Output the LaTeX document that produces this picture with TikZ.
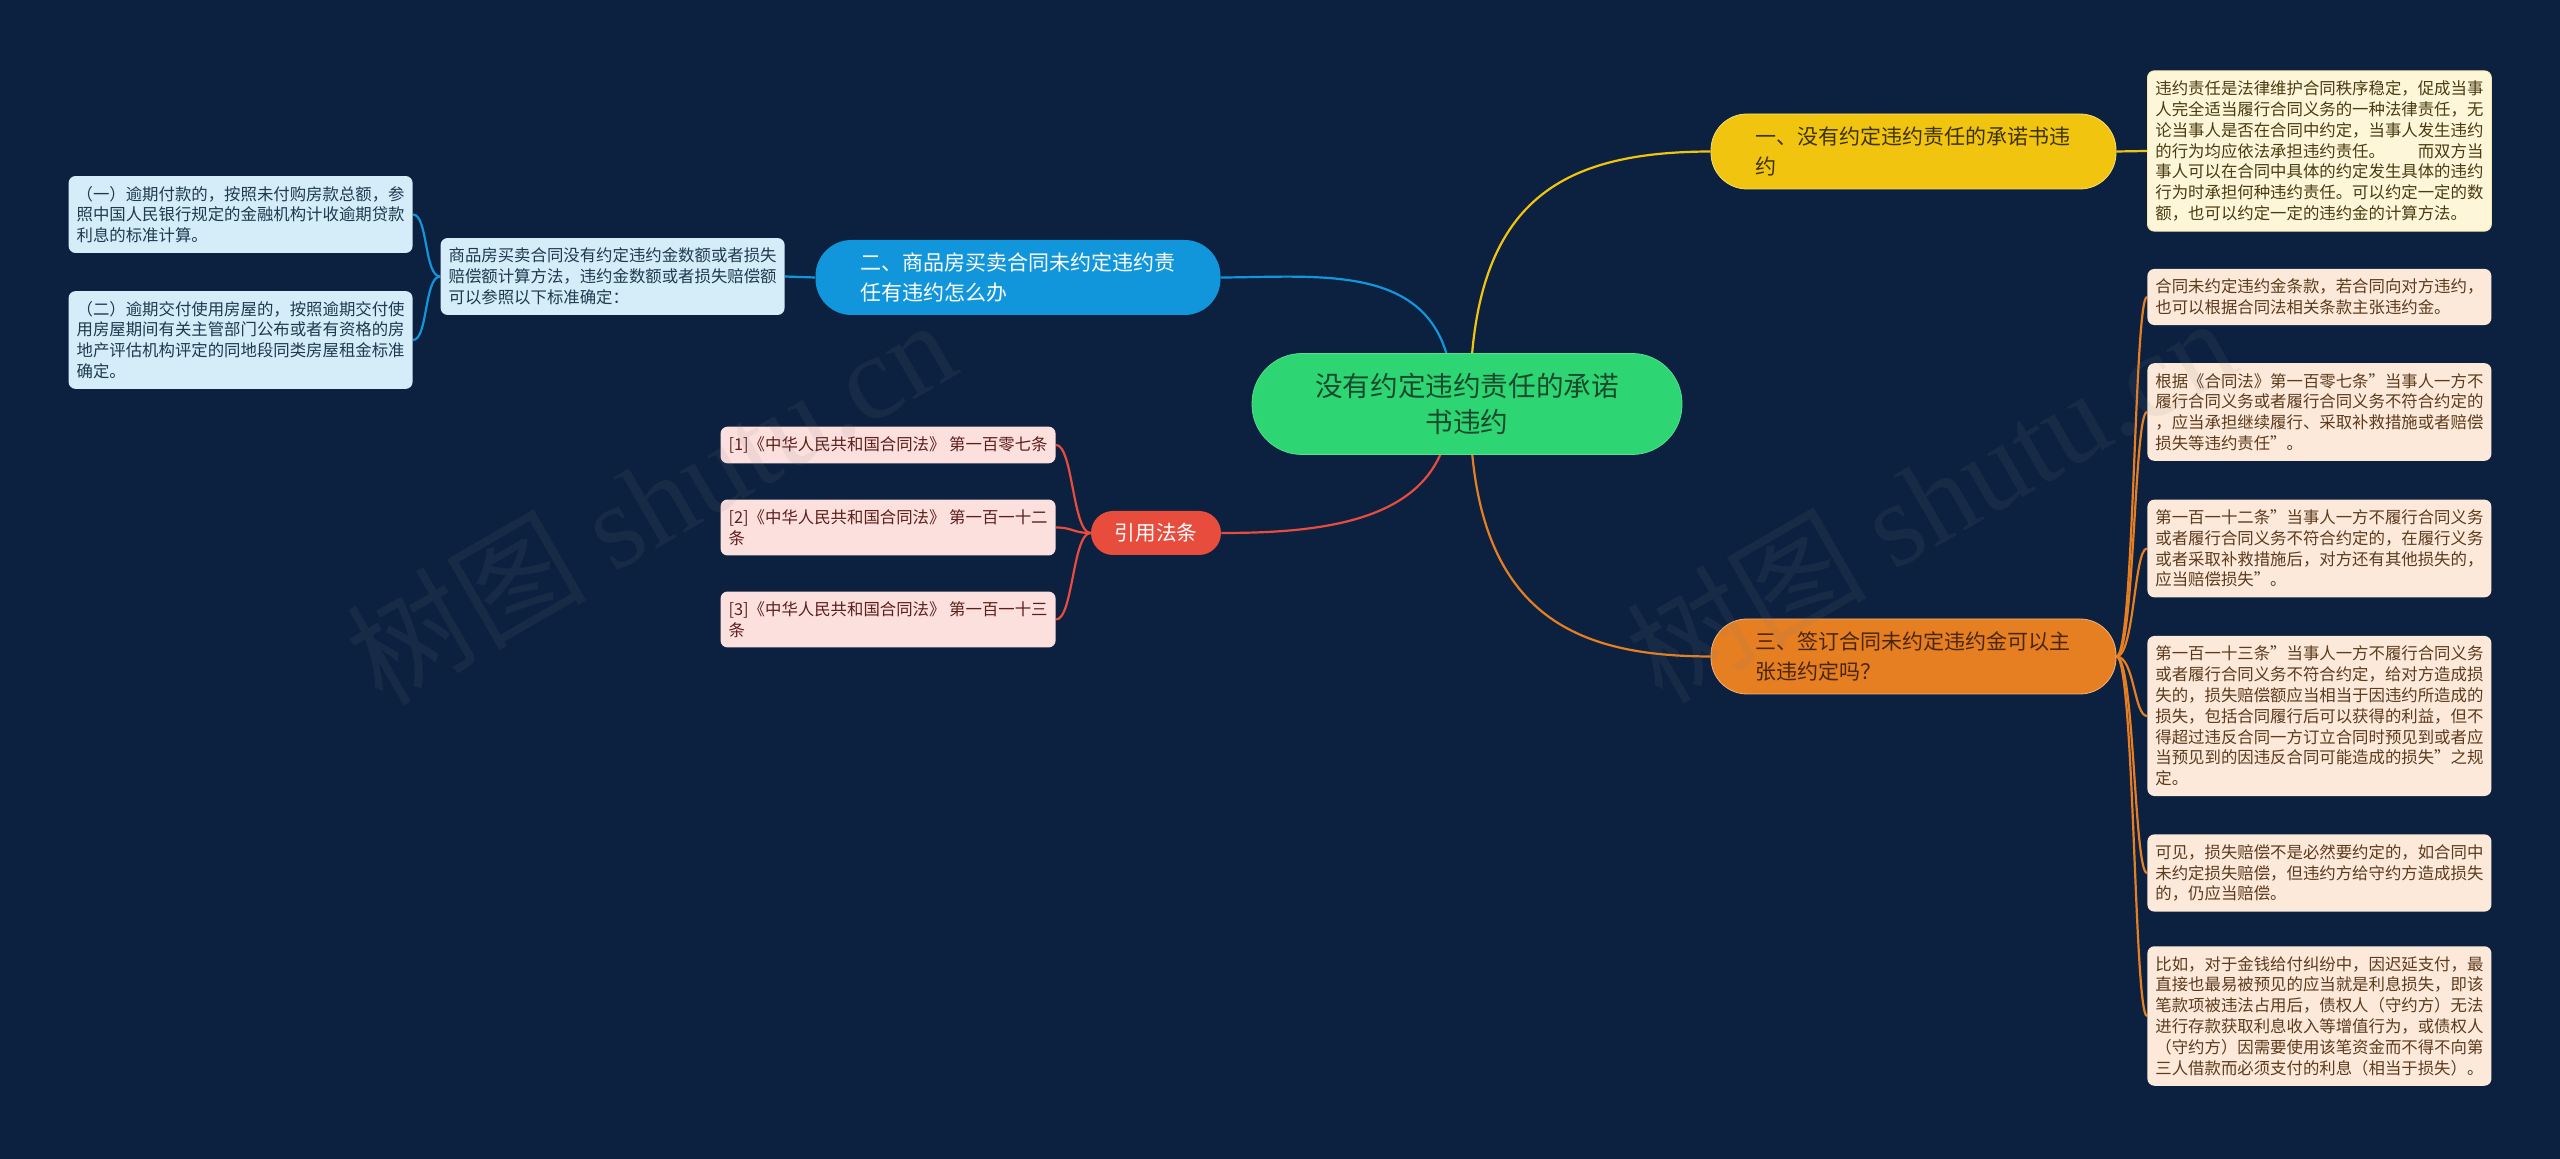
\documentclass[tikz,border=0pt]{standalone}
\usepackage{fontspec}
\setmainfont{Noto Sans CJK SC}
\newfontfamily\wmfont{Liberation Serif}
\usetikzlibrary{calc}

\definecolor{bgnavy}{HTML}{0C2140}
\definecolor{topicg}{HTML}{2ED573}
\definecolor{topicgd}{HTML}{1B4A2C}
\definecolor{yel}{HTML}{F1C40F}
\definecolor{yeltxt}{HTML}{3D3200}
\definecolor{yelbox}{HTML}{FDF6D8}
\definecolor{yelboxtxt}{HTML}{4A3B12}
\definecolor{org}{HTML}{E67E22}
\definecolor{orgtxt}{HTML}{4A2608}
\definecolor{orgbox}{HTML}{FDE9D9}
\definecolor{orgboxtxt}{HTML}{5C3B1E}
\definecolor{blu}{HTML}{1296DB}
\definecolor{blubox}{HTML}{D5EDF9}
\definecolor{bluboxtxt}{HTML}{1E3A4F}
\definecolor{refred}{HTML}{E74C3C}
\definecolor{refbox}{HTML}{FCE0DE}
\definecolor{refboxtxt}{HTML}{5C1F1A}

\pgfdeclarelayer{bg}
\pgfdeclarelayer{edges}
\pgfsetlayers{bg,edges,main}

\begin{document}
\begin{tikzpicture}[x=0.5pt,y=-0.5pt,
    box/.style={rounded corners=3.5pt,inner xsep=4pt,inner ysep=5pt,align=left,
      font=\fontsize{8.2}{10.4}\selectfont},
    pill/.style={rounded corners=18pt,minimum height=37.5pt,text width=158pt,
      inner xsep=22.25pt,align=left,font=\fontsize{10.5}{15}\selectfont},
    link/.style={line width=1.1pt},
    wm/.style={text=gray,opacity=0.1,font=\fontsize{60}{60}\selectfont,rotate=30}]

  \begin{pgfonlayer}{bg}
    \fill[bgnavy] (0,0) rectangle (2560,1159);
  \end{pgfonlayer}
  \useasboundingbox (0,0) rectangle (2560,1159);

  % centre and main branches
  \node[fill=topicg,draw=topicg!80!white,text=topicgd,rounded corners=25pt,
        minimum width=215pt,minimum height=50.5pt,align=center,
        font=\fontsize{13.8}{18.3}\selectfont] (root) at (1467,404) {没有约定违约责任的承诺\\书违约};
  \node[pill,fill=yel,draw=yel!60!white,text=yeltxt] (one) at (1913.5,151.5) {一、没有约定违约责任的承诺书违\\约};
  \node[pill,fill=blu,text=white] (two) at (1018,277.5) {二、商品房买卖合同未约定违约责\\任有违约怎么办};
  \node[pill,fill=org,draw=org!60!white,text=orgtxt] (three) at (1913.5,656.5) {三、签订合同未约定违约金可以主\\张违约定吗？};
  \node[fill=refred,text=white,rounded corners=11pt,minimum width=65pt,minimum height=22pt,
        font=\fontsize{10.3}{12}\selectfont] (cite) at (1156,533) {引用法条};

  % right side
  \node[box,fill=yelbox,draw=yel!40!white,text=yelboxtxt,anchor=west] (pA) at (2147,151) {违约责任是法律维护合同秩序稳定，促成当事\\人完全适当履行合同义务的一种法律责任，无\\论当事人是否在合同中约定，当事人发生违约\\的行为均应依法承担违约责任。　　而双方当\\事人可以在合同中具体的约定发生具体的违约\\行为时承担何种违约责任。可以约定一定的数\\额，也可以约定一定的违约金的计算方法。};
  \node[box,fill=orgbox,text=orgboxtxt,anchor=west] (pB) at (2147,297) {合同未约定违约金条款，若合同向对方违约，\\也可以根据合同法相关条款主张违约金。};
  \node[box,fill=orgbox,text=orgboxtxt,anchor=west] (pC) at (2147,412) {根据《合同法》第一百零七条"当事人一方不\\履行合同义务或者履行合同义务不符合约定的\\，应当承担继续履行、采取补救措施或者赔偿\\损失等违约责任"。};
  \node[box,fill=orgbox,text=orgboxtxt,anchor=west] (pD) at (2147,548.5) {第一百一十二条"当事人一方不履行合同义务\\或者履行合同义务不符合约定的，在履行义务\\或者采取补救措施后，对方还有其他损失的，\\应当赔偿损失"。};
  \node[box,fill=orgbox,text=orgboxtxt,anchor=west] (pE) at (2147,716) {第一百一十三条"当事人一方不履行合同义务\\或者履行合同义务不符合约定，给对方造成损\\失的，损失赔偿额应当相当于因违约所造成的\\损失，包括合同履行后可以获得的利益，但不\\得超过违反合同一方订立合同时预见到或者应\\当预见到的因违反合同可能造成的损失"之规\\定。};
  \node[box,fill=orgbox,text=orgboxtxt,anchor=west] (pF) at (2147,873) {可见，损失赔偿不是必然要约定的，如合同中\\未约定损失赔偿，但违约方给守约方造成损失\\的，仍应当赔偿。};
  \node[box,fill=orgbox,text=orgboxtxt,anchor=west] (pG) at (2147,1016) {比如，对于金钱给付纠纷中，因迟延支付，最\\直接也最易被预见的应当就是利息损失，即该\\笔款项被违法占用后，债权人（守约方）无法\\进行存款获取利息收入等增值行为，或债权人\\（守约方）因需要使用该笔资金而不得不向第\\三人借款而必须支付的利息（相当于损失）。};

  % left side
  \node[box,fill=blubox,text=bluboxtxt,anchor=east] (lS) at (785,276.5) {商品房买卖合同没有约定违约金数额或者损失\\赔偿额计算方法，违约金数额或者损失赔偿额\\可以参照以下标准确定：};
  \node[box,fill=blubox,text=bluboxtxt,anchor=east] (l1) at (413,214.5) {（一）逾期付款的，按照未付购房款总额，参\\照中国人民银行规定的金融机构计收逾期贷款\\利息的标准计算。};
  \node[box,fill=blubox,text=bluboxtxt,anchor=east] (l2) at (413,340) {（二）逾期交付使用房屋的，按照逾期交付使\\用房屋期间有关主管部门公布或者有资格的房\\地产评估机构评定的同地段同类房屋租金标准\\确定。};

  \node[box,fill=refbox,text=refboxtxt,anchor=east] (r1) at (1056,445) {[1]《中华人民共和国合同法》 第一百零七条};
  \node[box,fill=refbox,text=refboxtxt,anchor=east] (r2) at (1056,527.5) {[2]《中华人民共和国合同法》 第一百一十二\\条};
  \node[box,fill=refbox,text=refboxtxt,anchor=east] (r3) at (1056,619.5) {[3]《中华人民共和国合同法》 第一百一十三\\条};

  \begin{pgfonlayer}{edges}
    \draw[link,yel] ([xshift=1.5pt]root.center) .. controls (1470,200) and (1560,152) .. (one.west);
    \draw[link,blu] ([xshift=-7pt]root.center) .. controls (1453,260) and (1330,277) .. (two.east);
    \draw[link,refred] ([xshift=-8.5pt]root.center) .. controls (1450,520) and (1330,533) .. (cite.east);
    \draw[link,org] ([xshift=1.5pt]root.center) .. controls (1470,620) and (1580,656) .. (three.west);
    \draw[link,yel] (one.east) -- (pA.west);
    \draw[link,blu] (two.west) -- (lS.east);
    \foreach \leaf in {pB,pC,pD,pE,pF,pG}
      \draw[link,org] (three.east) .. controls +(18,0) and +(-13,0) .. (\leaf.west);
    \foreach \leaf in {l1,l2}
      \draw[link,blu] (lS.west) .. controls +(-16,0) and +(15,0) .. (\leaf.east);
    \foreach \leaf in {r1,r2,r3}
      \draw[link,refred] (cite.west) .. controls +(-18,0) and +(17,0) .. (\leaf.east);
  \end{pgfonlayer}

  % watermark
  \node[wm] (wmL) at (650,500) {树图 {\wmfont shutu.cn}};
  \node[wm] (wmR) at (1930,498) {树图 {\wmfont shutu.cn}};
\end{tikzpicture}
\end{document}
